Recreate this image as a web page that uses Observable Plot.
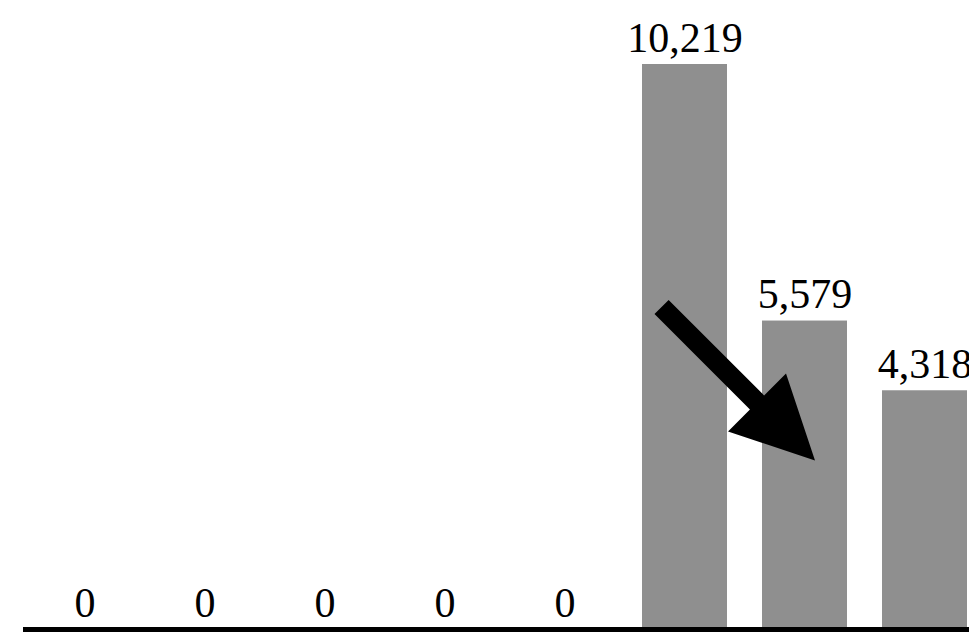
<!DOCTYPE html>
<html>
<head>
<meta charset="utf-8">
<script src="https://cdn.jsdelivr.net/npm/d3@7"></script>
<script src="https://cdn.jsdelivr.net/npm/@observablehq/plot@0.6"></script>
<style>
  html, body { margin: 0; padding: 0; background: #fff; overflow: hidden; }
  #chart svg { display: block; }
</style>
</head>
<body>
<div id="chart"></div>
<script>
// Data
const categories = ["1", "2", "3", "4", "5", "6", "7", "8"];
const values = [0, 0, 0, 0, 0, 10219, 5579, 4318];

// Arrow annotation (tip anchored near bar 7)
const arrowCategory = ["7"];
const arrowValue = [3057];

const data = categories.map((c, i) => ({category: c, value: values[i]}));
const arrowData = arrowCategory.map((c, i) => ({category: c, value: arrowValue[i]}));

const fmt = d3.format(",");

// Filled block arrow drawn pointing "up" from (0,0) to (0,-l)
const blockArrow = {
  draw(context, l) {
    const sw = 10, hw = 41, hl = 82;
    context.moveTo(-sw, 0);
    context.lineTo(-sw, -(l - hl));
    context.lineTo(-hw, -(l - hl));
    context.lineTo(0, -l);
    context.lineTo(hw, -(l - hl));
    context.lineTo(sw, -(l - hl));
    context.lineTo(sw, 0);
    context.closePath();
  }
};

const chart = Plot.plot({
  width: 969,
  height: 633,
  marginLeft: 23,
  marginRight: 0,
  marginTop: 64,
  marginBottom: 4,
  style: {fontFamily: "'Liberation Serif', 'Times New Roman', serif", background: "white", overflow: "visible"},
  x: {domain: categories, paddingInner: 35 / 120, paddingOuter: 0.0875, align: 0.905, axis: null},
  y: {domain: [0, 10219], axis: null},
  marks: [
    Plot.barY(data, {x: "category", y: "value", fill: "#8f8f8f"}),
    Plot.ruleY([0], {stroke: "black", strokeWidth: 5}),
    Plot.text(data, {
      x: "category",
      y: "value",
      text: d => fmt(d.value),
      lineAnchor: "bottom",
      dy: -13,
      fontSize: 42,
      fill: "black"
    }),
    Plot.vector(arrowData, {
      x: "category",
      y: "value",
      dx: 10,
      anchor: "end",
      rotate: 135,
      length: 217,
      shape: blockArrow,
      fill: "black",
      stroke: "none"
    })
  ]
});

document.getElementById("chart").appendChild(chart);
</script>
</body>
</html>
